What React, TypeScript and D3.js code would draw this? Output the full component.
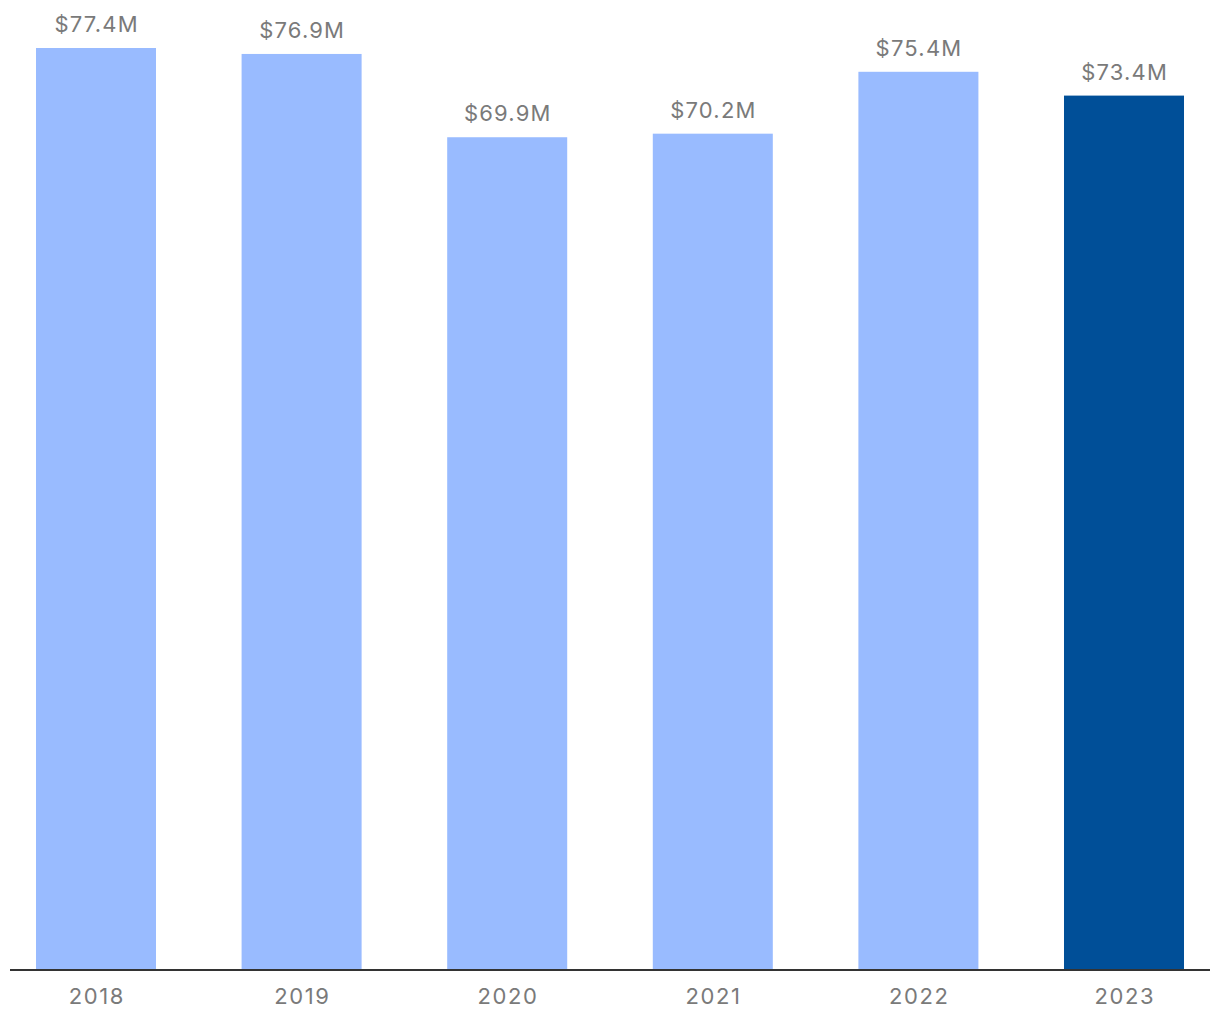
import React from "react";
import * as d3 from "d3";

const years = ["2018", "2019", "2020", "2021", "2022", "2023"];
const values = [77.4, 76.9, 69.9, 70.2, 75.4, 73.4];
const labels = ["$77.4M", "$76.9M", "$69.9M", "$70.2M", "$75.4M", "$73.4M"];
const highlightYear = "2023";

const W = 1220;
const H = 1020;

export default function App() {
  const x = d3
    .scaleBand<string>()
    .domain(years)
    .range([-6.8, 1226.8])
    .paddingInner(0.4163)
    .paddingOuter(0.4163 / 2);
  const y = d3.scaleLinear().domain([0, 77.4]).range([969, 48]);
  const font = "Inter, 'Liberation Sans', Arial, sans-serif";
  return (
    <svg
      width={W}
      height={H}
      style={{ position: "absolute", left: 0, top: 0, background: "#fff" }}
    >
      {years.map((yr, i) => (
        <rect
          key={yr}
          x={x(yr)}
          y={y(values[i])}
          width={x.bandwidth()}
          height={y(0) - y(values[i])}
          fill={yr === highlightYear ? "#004F98" : "#99BBFF"}
        />
      ))}
      {years.map((yr, i) => (
        <text
          key={"v" + yr}
          x={(x(yr) as number) + x.bandwidth() / 2 + 0.6}
          y={y(values[i]) - 16}
          textAnchor="middle"
          fontFamily={font}
          fontSize={22}
          letterSpacing={1.2}
          fill="#7a7a7a"
        >
          {labels[i]}
        </text>
      ))}
      <line x1={10} x2={1210} y1={970} y2={970} stroke="#333" strokeWidth={2} />
      {years.map((yr) => (
        <text
          key={"t" + yr}
          x={(x(yr) as number) + x.bandwidth() / 2 + 0.8}
          y={1004}
          textAnchor="middle"
          fontFamily={font}
          fontSize={22}
          letterSpacing={1.6}
          fill="#7a7a7a"
        >
          {yr}
        </text>
      ))}
    </svg>
  );
}
